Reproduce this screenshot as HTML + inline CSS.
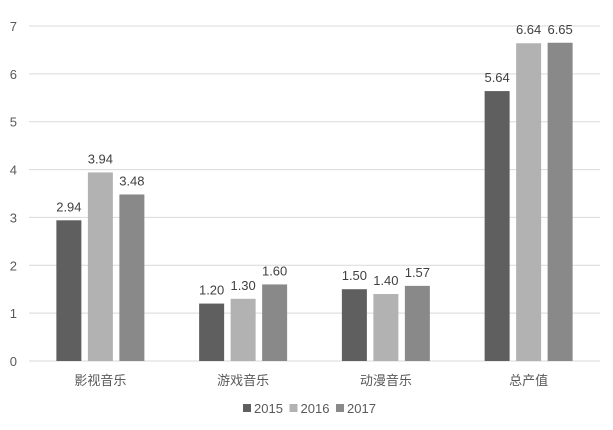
<!DOCTYPE html>
<html><head><meta charset="utf-8"><style>
body{margin:0;background:#fff;}
svg{display:block;font-family:"Liberation Sans","Noto Sans CJK SC",sans-serif;}
</style></head><body>
<svg id="c" width="613" height="430"></svg>
<script>
const categories=["影视音乐","游戏音乐","动漫音乐","总产值"];
const seriesNames=["2015","2016","2017"];
const s2015=[2.94,1.20,1.50,5.64];
const s2016=[3.94,1.30,1.40,6.64];
const s2017=[3.48,1.60,1.57,6.65];
const yTicks=[0,1,2,3,4,5,6,7];
const series=[s2015,s2016,s2017];
const colors=["#5f5f5f","#b2b2b2","#898989"];
const svg=document.getElementById('c');
const NS="http://www.w3.org/2000/svg";
const x0=29,x1=600,yBase=361,yTop=26,yMax=7;
const y=v=>yBase-(v/yMax)*(yBase-yTop);
const band=(x1-x0)/categories.length;
const bw=25,step=31.5;
function mk(t,a,txt){const e=document.createElementNS(NS,t);for(const k in a)e.setAttribute(k,a[k]);if(txt!=null)e.textContent=txt;svg.appendChild(e);return e;}
yTicks.forEach(t=>{
  const g=mk('line',{x1:x0,x2:x1,y1:y(t),y2:y(t),stroke:'#d9d9d9','stroke-width':1});
  
  
  const l=mk('text',{x:17,y:y(t)+5,'text-anchor':'end','font-size':13,fill:'#595959'},t);
  
  
});
categories.forEach((c,i)=>{
  const cx=x0+band*(i+0.5);
  series.forEach((s,j)=>{
    const bx=cx+(j-1)*step-bw/2;
    const r=mk('rect',{x:bx,y:y(s[i]),width:bw,height:yBase-y(s[i]),fill:colors[j]});
    
    
    const t=mk('text',{x:bx+bw/2,y:y(s[i])-9,'text-anchor':'middle','font-size':13,fill:'#404040'},s[i].toFixed(2));
    
    
  });
  const cl=mk('text',{x:cx,y:385,'text-anchor':'middle','font-size':13,fill:'#595959'},c);
  
  
});
let lx=243;
seriesNames.forEach((n,j)=>{
  const r=mk('rect',{x:lx,y:404,width:8,height:8,fill:colors[j]});
  
  
  const t=mk('text',{x:lx+11,y:413,'font-size':13,fill:'#595959'},n);
  
  
  lx+=46.5;
});
</script>
</body></html>
